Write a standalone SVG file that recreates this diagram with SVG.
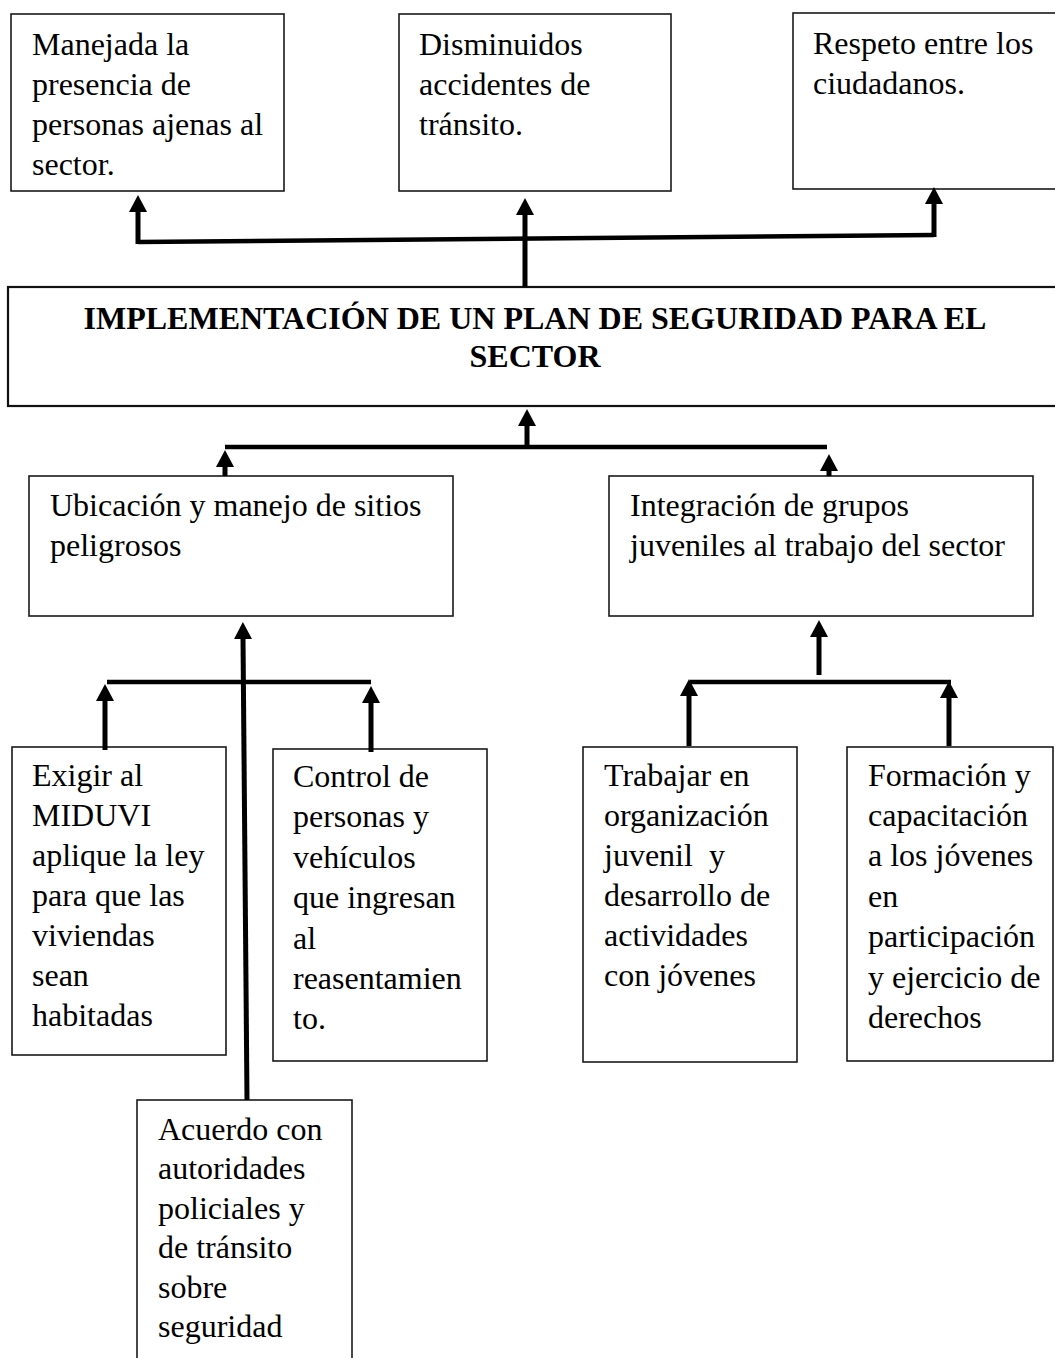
<svg xmlns="http://www.w3.org/2000/svg" width="1055" height="1358" viewBox="0 0 1055 1358">
<style>
.box{fill:#fff;stroke:#1a1a1a;stroke-width:1.6}
.main{fill:#fff;stroke:#111;stroke-width:2.2}
.t{font-family:"Liberation Serif","Times New Roman",serif;font-size:32px;fill:#000}
.tb{font-family:"Liberation Serif","Times New Roman",serif;font-size:32px;font-weight:bold;fill:#000;text-anchor:middle}
.c{fill:none;stroke:#000;stroke-width:4.5;stroke-linejoin:miter}
.ca{fill:none;stroke:#000;stroke-width:5;marker-end:url(#ah)}
</style>
<defs>
<marker id="ah" markerUnits="userSpaceOnUse" markerWidth="18" markerHeight="18" refX="1" refY="9" orient="auto" viewBox="0 0 18 18">
<path d="M0,0 L17,9 L0,18 Z" fill="#000"/>
</marker>
</defs>
<g id="n1"><rect class="box" x="11" y="14" width="273" height="177"/>
<text class="t" x="32"><tspan x="32" y="55">Manejada la</tspan><tspan x="32" y="95">presencia de</tspan><tspan x="32" y="135">personas ajenas al</tspan><tspan x="32" y="175">sector.</tspan></text></g>
<g id="n2"><rect class="box" x="399" y="14" width="272" height="177"/>
<text class="t"><tspan x="419" y="55">Disminuidos</tspan><tspan x="419" y="95">accidentes de</tspan><tspan x="419" y="135">tránsito.</tspan></text></g>
<g id="n3"><rect class="box" x="793" y="13" width="275" height="176"/>
<text class="t"><tspan x="813" y="54">Respeto entre los</tspan><tspan x="813" y="94">ciudadanos.</tspan></text></g>
<g id="main"><rect class="main" x="8" y="287" width="1060" height="119"/>
<text class="tb"><tspan x="535" y="329">IMPLEMENTACIÓN DE UN PLAN DE SEGURIDAD PARA EL</tspan><tspan x="535" y="367">SECTOR</tspan></text></g>
<g id="n4"><rect class="box" x="29" y="476" width="424" height="140"/>
<text class="t"><tspan x="50" y="516">Ubicación y manejo de sitios</tspan><tspan x="50" y="556">peligrosos</tspan></text></g>
<g id="n5"><rect class="box" x="609" y="476" width="424" height="140"/>
<text class="t"><tspan x="630" y="516">Integración de grupos</tspan><tspan x="630" y="556">juveniles al trabajo del sector</tspan></text></g>
<g id="n6"><rect class="box" x="12" y="747" width="214" height="308"/>
<text class="t"><tspan x="32" y="786">Exigir al</tspan><tspan x="32" y="826">MIDUVI</tspan><tspan x="32" y="866">aplique la ley</tspan><tspan x="32" y="906">para que las</tspan><tspan x="32" y="946">viviendas</tspan><tspan x="32" y="986">sean</tspan><tspan x="32" y="1026">habitadas</tspan></text></g>
<g id="n7"><rect class="box" x="273" y="749" width="214" height="312"/>
<text class="t"><tspan x="293" y="787">Control de</tspan><tspan x="293" y="827">personas y</tspan><tspan x="293" y="868">vehículos</tspan><tspan x="293" y="908">que ingresan</tspan><tspan x="293" y="949">al</tspan><tspan x="293" y="989">reasentamien</tspan><tspan x="293" y="1029">to.</tspan></text></g>
<g id="n8"><rect class="box" x="583" y="747" width="214" height="315"/>
<text class="t" style="white-space:pre"><tspan x="604" y="786">Trabajar en</tspan><tspan x="604" y="826">organización</tspan><tspan x="604" y="866">juvenil  y</tspan><tspan x="604" y="906">desarrollo de</tspan><tspan x="604" y="946">actividades</tspan><tspan x="604" y="986">con jóvenes</tspan></text></g>
<g id="n9"><rect class="box" x="847" y="747" width="206" height="314"/>
<text class="t"><tspan x="868" y="786">Formación y</tspan><tspan x="868" y="826">capacitación</tspan><tspan x="868" y="866">a los jóvenes</tspan><tspan x="868" y="907">en</tspan><tspan x="868" y="947">participación</tspan><tspan x="868" y="988">y ejercicio de</tspan><tspan x="868" y="1028">derechos</tspan></text></g>
<g id="n10"><rect class="box" x="137" y="1100" width="215" height="270"/>
<text class="t"><tspan x="158" y="1140">Acuerdo con</tspan><tspan x="158" y="1179">autoridades</tspan><tspan x="158" y="1219">policiales y</tspan><tspan x="158" y="1258">de tránsito</tspan><tspan x="158" y="1298">sobre</tspan><tspan x="158" y="1337">seguridad</tspan></text></g>
<g id="connectors">
<path class="c" d="M138,242 L934,235"/>
<path class="ca" d="M138,244 L138,211"/>
<path class="ca" d="M934,237 L934,203"/>
<path class="ca" d="M525,287 L525,214"/>
<path class="c" d="M225,447 L827,447"/>
<path class="ca" d="M527,447 L527,425"/>
<path class="ca" d="M225,476 L225,466"/>
<path class="ca" d="M829,476 L829,470"/>
<path class="c" d="M107,682 L371,682"/>
<path class="ca" d="M247,1100 L243,638"/>
<path class="ca" d="M105,750 L105,700"/>
<path class="ca" d="M371,752 L371,702"/>
<path class="c" d="M690,682 L951,682"/>
<path class="ca" d="M819,675 L819,636"/>
<path class="ca" d="M689,746 L689,695"/>
<path class="ca" d="M949,746 L949,697"/>
</g>
</svg>
